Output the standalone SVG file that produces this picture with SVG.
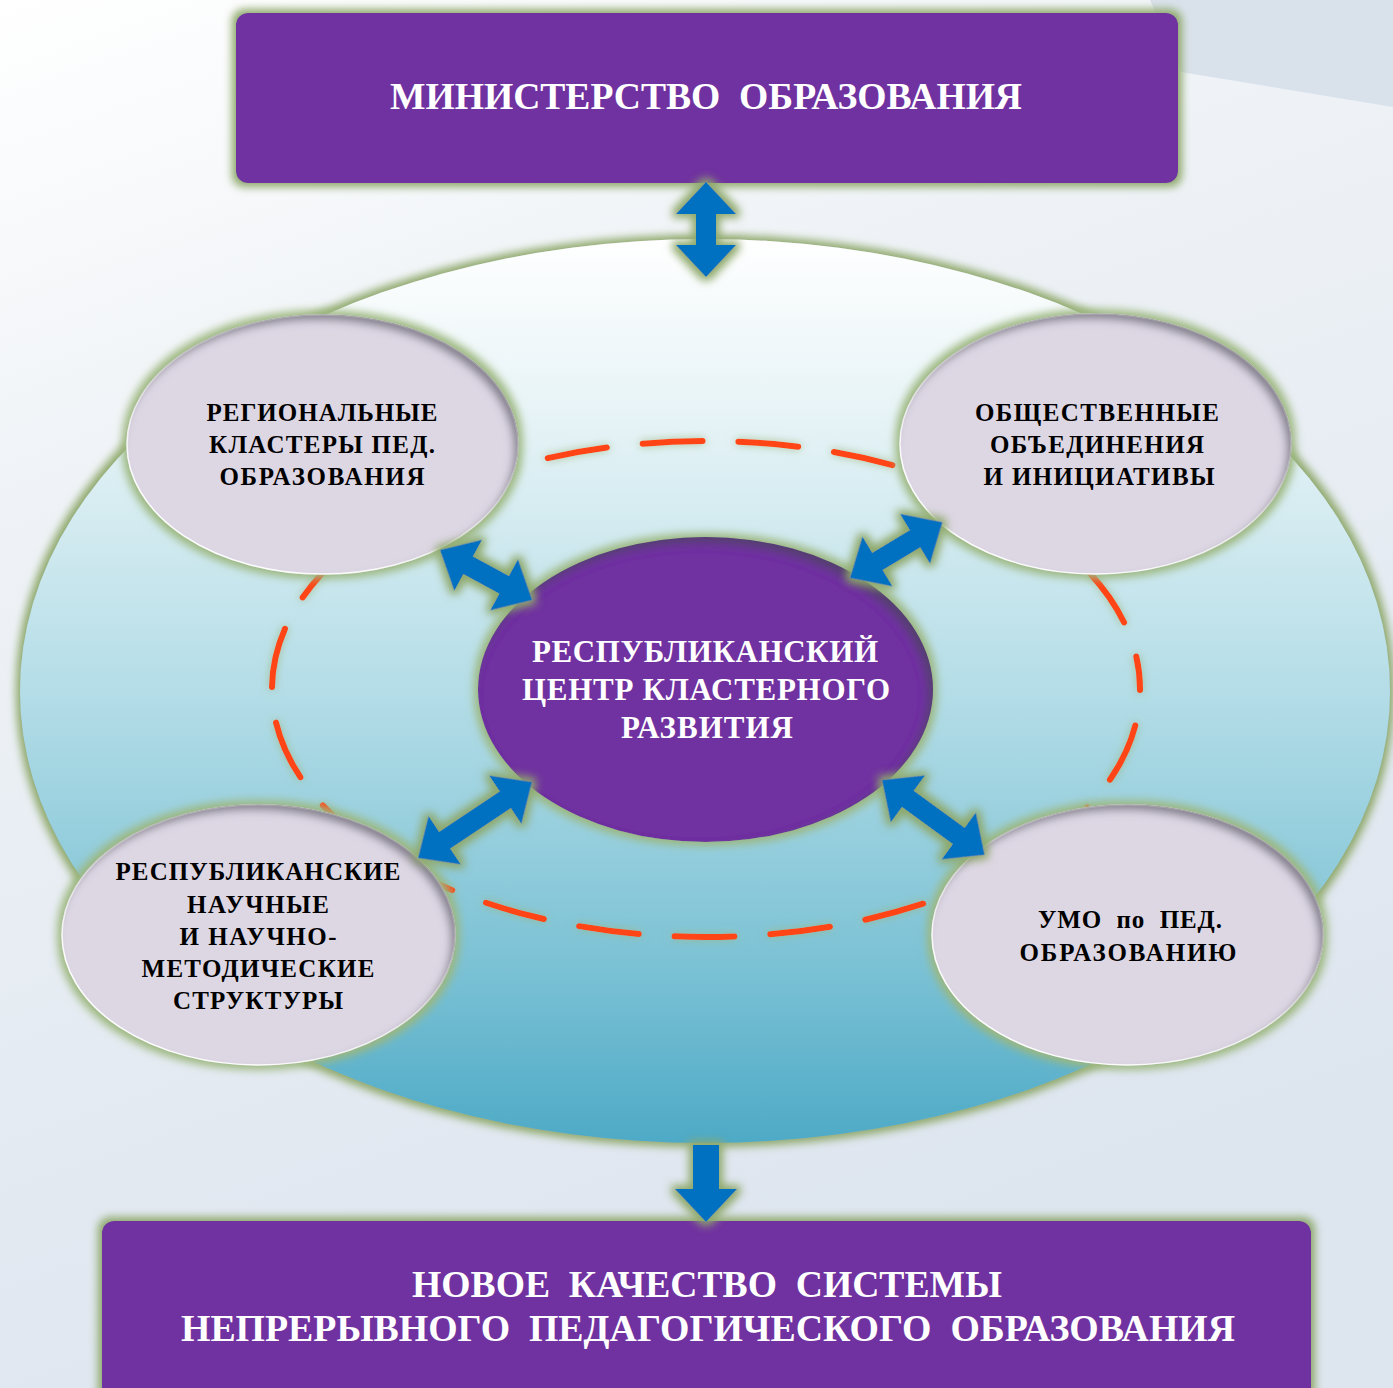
<svg xmlns="http://www.w3.org/2000/svg" width="1393" height="1388" viewBox="0 0 1393 1388">
  <defs>
    <linearGradient id="bg" x1="0" y1="0" x2="0.35" y2="1">
      <stop offset="0" stop-color="#ffffff"/>
      <stop offset="0.35" stop-color="#eef2f6"/>
      <stop offset="1" stop-color="#dde5ef"/>
    </linearGradient>
    <linearGradient id="big" x1="0" y1="0" x2="0" y2="1">
      <stop offset="0" stop-color="#ffffff"/>
      <stop offset="0.2" stop-color="#e6f3f6"/>
      <stop offset="0.5" stop-color="#b4dde7"/>
      <stop offset="0.8" stop-color="#7cc2d5"/>
      <stop offset="1" stop-color="#4eaac6"/>
    </linearGradient>
    <filter id="glow" x="-10%" y="-10%" width="120%" height="120%">
      <feMorphology in="SourceAlpha" operator="dilate" radius="4" result="d"/>
      <feGaussianBlur in="d" stdDeviation="4" result="b"/>
      <feFlood flood-color="#8ea86a" flood-opacity="1"/>
      <feComposite in2="b" operator="in" result="g"/>
      <feMerge><feMergeNode in="g"/><feMergeNode in="SourceGraphic"/></feMerge>
    </filter>
    <filter id="oval" x="-10%" y="-10%" width="120%" height="120%">
      <feMorphology in="SourceAlpha" operator="dilate" radius="4" result="d"/>
      <feGaussianBlur in="d" stdDeviation="4" result="b"/>
      <feFlood flood-color="#9cb77e" flood-opacity="1"/>
      <feComposite in2="b" operator="in" result="g"/>
      <feComponentTransfer in="SourceAlpha" result="inv"><feFuncA type="table" tableValues="1 0"/></feComponentTransfer>
      <feGaussianBlur in="inv" stdDeviation="4" result="ib"/>
      <feOffset in="ib" dx="-5" dy="6" result="io"/>
      <feFlood flood-color="#4a4458" flood-opacity="0.75"/>
      <feComposite in2="io" operator="in" result="sh"/>
      <feComposite in="sh" in2="SourceAlpha" operator="in" result="ish"/>
      <feMerge><feMergeNode in="g"/><feMergeNode in="SourceGraphic"/><feMergeNode in="ish"/></feMerge>
    </filter>
    <filter id="soft" x="-5%" y="-5%" width="110%" height="110%">
      <feGaussianBlur in="SourceAlpha" stdDeviation="4" result="b"/>
      <feFlood flood-color="#9cb77e" flood-opacity="0.8"/>
      <feComposite in2="b" operator="in" result="g"/>
      <feMerge><feMergeNode in="g"/><feMergeNode in="SourceGraphic"/></feMerge>
    </filter>
  </defs>
  <style>
    .box { fill: #7030a0; }
    .lite { fill: #ddd7e4; stroke: #ffffff; stroke-width: 1.5; }
    .core { fill: #7030a0; }
    .arrow { fill: #0070c0; }
    .ring { fill: none; stroke: #ff4512; stroke-width: 6; stroke-linecap: round; stroke-dasharray: 60 36; stroke-dashoffset: 59; }
    .wt { font-family: "Liberation Serif", "Times New Roman", serif; font-weight: bold; fill: #ffffff; text-anchor: middle; white-space: pre; }
    .bt { font-family: "Liberation Serif", "Times New Roman", serif; font-weight: bold; fill: #000000; text-anchor: middle; font-size: 25px; white-space: pre; }
  </style>

  <!-- background -->
  <rect x="0" y="0" width="1393" height="1388" fill="url(#bg)"/>
  <polygon points="1150,0 1393,0 1393,107 1181,72" fill="#d9e2eb"/>

  <!-- big ellipse field -->
  <ellipse cx="705" cy="691" rx="685" ry="452" fill="url(#big)" filter="url(#glow)"/>
  <!-- dashed ring -->
  <ellipse cx="706" cy="689" rx="434" ry="248" class="ring" filter="url(#soft)"/>

  <g id="node-ministry">
    <rect x="236" y="13" width="942" height="170" rx="12" class="box" filter="url(#glow)"/>
    <text x="706" y="109" class="wt" font-size="38" textLength="632" lengthAdjust="spacingAndGlyphs">МИНИСТЕРСТВО  ОБРАЗОВАНИЯ</text>
  </g>

  <g id="node-result">
    <rect x="102" y="1221" width="1209" height="190" rx="12" class="box" filter="url(#glow)"/>
    <text x="707" y="1297" class="wt" font-size="38" textLength="590" lengthAdjust="spacingAndGlyphs">НОВОЕ  КАЧЕСТВО  СИСТЕМЫ</text>
    <text x="708" y="1341" class="wt" font-size="38" textLength="1054" lengthAdjust="spacingAndGlyphs">НЕПРЕРЫВНОГО  ПЕДАГОГИЧЕСКОГО  ОБРАЗОВАНИЯ</text>
  </g>

  <g id="node-regional">
    <ellipse cx="322.5" cy="444.5" rx="195.5" ry="129.5" class="lite" filter="url(#oval)"/>
    <text class="bt"><tspan x="322" y="421" textLength="231" lengthAdjust="spacing">РЕГИОНАЛЬНЫЕ</tspan><tspan x="322" y="453" textLength="226" lengthAdjust="spacing">КЛАСТЕРЫ ПЕД.</tspan><tspan x="322" y="485" textLength="205" lengthAdjust="spacing">ОБРАЗОВАНИЯ</tspan></text>
  </g>

  <g id="node-public">
    <ellipse cx="1095.5" cy="444" rx="195.5" ry="130" class="lite" filter="url(#oval)"/>
    <text class="bt"><tspan x="1097" y="421" textLength="244" lengthAdjust="spacing">ОБЩЕСТВЕННЫЕ</tspan><tspan x="1097" y="453" textLength="214" lengthAdjust="spacing">ОБЪЕДИНЕНИЯ</tspan><tspan x="1099" y="485" textLength="231" lengthAdjust="spacing">И ИНИЦИАТИВЫ</tspan></text>
  </g>

  <g id="node-science">
    <ellipse cx="258.5" cy="935" rx="196.5" ry="130" class="lite" filter="url(#oval)"/>
    <text class="bt"><tspan x="258" y="880" textLength="285" lengthAdjust="spacing">РЕСПУБЛИКАНСКИЕ</tspan><tspan x="258" y="913" textLength="142" lengthAdjust="spacing">НАУЧНЫЕ</tspan><tspan x="258" y="945" textLength="157" lengthAdjust="spacing">И НАУЧНО-</tspan><tspan x="258" y="977" textLength="233" lengthAdjust="spacing">МЕТОДИЧЕСКИЕ</tspan><tspan x="258" y="1009" textLength="170" lengthAdjust="spacing">СТРУКТУРЫ</tspan></text>
  </g>

  <g id="node-umo">
    <ellipse cx="1127.5" cy="935" rx="195.5" ry="130" class="lite" filter="url(#oval)"/>
    <text class="bt"><tspan x="1130" y="928" textLength="184" lengthAdjust="spacing">УМО  по  ПЕД.</tspan><tspan x="1128" y="961" textLength="217" lengthAdjust="spacing">ОБРАЗОВАНИЮ</tspan></text>
  </g>

  <g id="node-center">
    <ellipse cx="705.5" cy="689.5" rx="227.5" ry="152.5" class="core" filter="url(#oval)"/>
    <text class="wt" font-size="31"><tspan x="705" y="662" textLength="346" lengthAdjust="spacing">РЕСПУБЛИКАНСКИЙ</tspan><tspan x="706" y="700" textLength="368" lengthAdjust="spacing">ЦЕНТР КЛАСТЕРНОГО</tspan><tspan x="707" y="738" textLength="172" lengthAdjust="spacing">РАЗВИТИЯ</tspan></text>
  </g>

  <g id="connectors" filter="url(#glow)">
    <path class="arrow" transform="translate(706,182) rotate(90)" d="M0,0 L32,-30 L32,-10 L63,-10 L63,-30 L95,0 L63,30 L63,10 L32,10 L32,30 Z"/>
    <path class="arrow" transform="translate(706,1145) rotate(90)" d="M0,-13 L44,-13 L44,-31 L77,0 L44,31 L44,13 L0,13 Z"/>
    <path class="arrow" transform="translate(440,550) rotate(28.5)" d="M0,0 L32,-29 L32,-10 L73,-10 L73,-29 L105,0 L73,29 L73,10 L32,10 L32,29 Z"/>
    <path class="arrow" transform="translate(850,578) rotate(-31.1)" d="M0,0 L32,-29 L32,-10 L76,-10 L76,-29 L108,0 L76,29 L76,10 L32,10 L32,29 Z"/>
    <path class="arrow" transform="translate(418,858) rotate(-33.7)" d="M0,0 L32,-29 L32,-10 L105,-10 L105,-29 L137,0 L105,29 L105,10 L32,10 L32,29 Z"/>
    <path class="arrow" transform="translate(882,780) rotate(36.1)" d="M0,0 L32,-29 L32,-10 L95,-10 L95,-29 L127,0 L95,29 L95,10 L32,10 L32,29 Z"/>
  </g>
</svg>
